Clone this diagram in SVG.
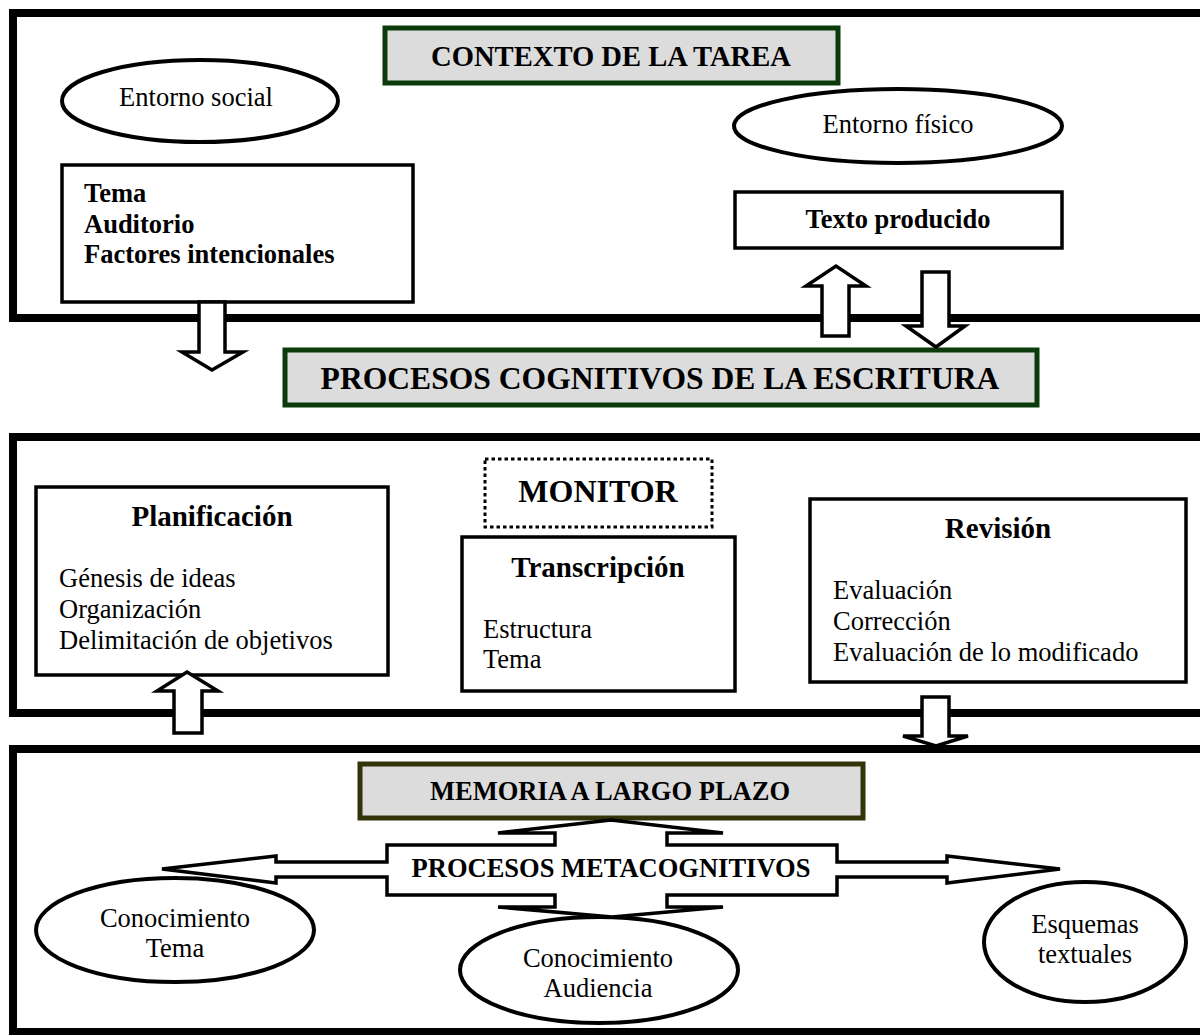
<svg xmlns="http://www.w3.org/2000/svg" width="1200" height="1035" viewBox="0 0 1200 1035">
  <style>
    text { font-family: "Liberation Serif", "Times New Roman", serif; fill: #000; }
    .b { font-weight: bold; }
    .c { text-anchor: middle; }
    .frame { fill: none; stroke: #000; stroke-width: 8; }
    .box { fill: #fff; stroke: #000; stroke-width: 3.5; }
    .oval { fill: #fff; stroke: #000; stroke-width: 4; }
    .head-g { fill: #dcdcdc; stroke: #0b3a0b; stroke-width: 5; }
    .head-o { fill: #dcdcdc; stroke: #33330a; stroke-width: 5; }
    .arrow { fill: #fff; stroke: #000; stroke-width: 3.5; stroke-linejoin: miter; }
    .t26 { font-size: 26.5px; }
    .t29 { font-size: 29px; }
  </style>

  <!-- section frames, open on the right edge -->
  <g id="frames">
    <path class="frame" d="M1210,13 H13 V318 H1210"/>
    <path class="frame" d="M1210,437 H13 V713 H1210"/>
    <path class="frame" d="M1210,749 H13 V1032 H1210"/>
  </g>

  <!-- task context -->
  <g id="contexto">
    <rect class="head-g" x="385" y="28" width="453" height="55"/>
    <text class="b c" x="611" y="66" style="font-size:28.6px">CONTEXTO DE LA TAREA</text>
  </g>
  <g id="entorno-social">
    <ellipse class="oval" cx="200" cy="101" rx="138" ry="41"/>
    <text class="c t26" x="196" y="106">Entorno social</text>
  </g>
  <g id="entorno-fisico">
    <ellipse class="oval" cx="898" cy="126" rx="164" ry="37"/>
    <text class="c t26" x="898" y="133">Entorno físico</text>
  </g>
  <g id="tema-auditorio">
    <rect class="box" x="62" y="165" width="351" height="137"/>
    <text class="b t26" x="84" y="202">Tema</text>
    <text class="b t26" x="84" y="233">Auditorio</text>
    <text class="b t26" x="84" y="263">Factores intencionales</text>
  </g>
  <g id="texto-producido">
    <rect class="box" x="735" y="192" width="327" height="56"/>
    <text class="b c t26" x="898" y="228">Texto producido</text>
  </g>

  <!-- cognitive processes -->
  <g id="procesos-cognitivos">
    <rect class="head-g" x="285" y="350" width="752" height="55"/>
    <text class="b c" x="660" y="389" style="font-size:31.6px">PROCESOS COGNITIVOS DE LA ESCRITURA</text>
  </g>
  <g id="planificacion">
    <rect class="box" x="36" y="487" width="352" height="188"/>
    <text class="b c t29" x="212" y="526">Planificación</text>
    <text class="t26" x="59" y="587">Génesis de ideas</text>
    <text class="t26" x="59" y="618">Organización</text>
    <text class="t26" x="59" y="649">Delimitación de objetivos</text>
  </g>
  <g id="monitor">
    <rect x="485" y="459" width="227" height="68" fill="#fff" stroke="#000" stroke-width="3" stroke-dasharray="3.5 3"/>
    <text class="b c" x="598" y="502" style="font-size:32px">MONITOR</text>
  </g>
  <g id="transcripcion">
    <rect class="box" x="462" y="537" width="273" height="154"/>
    <text class="b c t29" x="598" y="577">Transcripción</text>
    <text class="t26" x="483" y="638">Estructura</text>
    <text class="t26" x="483" y="668">Tema</text>
  </g>
  <g id="revision">
    <rect class="box" x="810" y="499" width="376" height="183"/>
    <text class="b c t29" x="998" y="538">Revisión</text>
    <text class="t26" x="833" y="599">Evaluación</text>
    <text class="t26" x="833" y="630">Corrección</text>
    <text class="t26" x="833" y="661">Evaluación de lo modificado</text>
  </g>

  <!-- long-term memory -->
  <g id="memoria">
    <rect class="head-o" x="360" y="764" width="503" height="54"/>
    <text class="b c t26" x="610" y="800">MEMORIA A LARGO PLAZO</text>
  </g>
  <g id="conocimiento-tema">
    <ellipse class="oval" cx="175" cy="930" rx="139" ry="52"/>
    <text class="c t26" x="175" y="927">Conocimiento</text>
    <text class="c t26" x="175" y="957">Tema</text>
  </g>
  <g id="conocimiento-audiencia">
    <ellipse class="oval" cx="599" cy="970" rx="139" ry="53"/>
    <text class="c t26" x="598" y="967">Conocimiento</text>
    <text class="c t26" x="598" y="997">Audiencia</text>
  </g>
  <g id="esquemas">
    <ellipse class="oval" cx="1085" cy="942" rx="101" ry="60"/>
    <text class="c t26" x="1085" y="933">Esquemas</text>
    <text class="c t26" x="1085" y="963">textuales</text>
  </g>

  <!-- block arrows between the sections -->
  <g id="connectors">
    <polygon class="arrow" points="199,302 225,302 225,352 243,352 212,370 182,352 199,352"/>
    <polygon class="arrow" points="822,336 849,336 849,286 866,286 836,266 806,286 822,286"/>
    <polygon class="arrow" points="922,272 949,272 949,326 965,326 936,347 906,326 922,326"/>
    <polygon class="arrow" points="174,733 202,733 202,691 218,691 187,672 157,691 174,691"/>
    <polygon class="arrow" points="922,697 949,697 949,736 968,736 936,746 903,736 922,736"/>
  </g>

  <!-- metacognitive processes: box with four arrowheads -->
  <g id="procesos-metacognitivos">
    <polygon class="arrow" points="387,845 555,845 555,833 498,833 611,820 723,833 667,833 667,845 837,845 837,862 947,862 947,856 1060,869 947,883 947,877 837,877 837,895 667,895 667,907 723,907 612,917 498,907 555,907 555,895 387,895 387,877 276,877 276,883 162,869 276,856 276,862 387,862"/>
    <text class="b c t26" x="611" y="877">PROCESOS METACOGNITIVOS</text>
  </g>
</svg>
